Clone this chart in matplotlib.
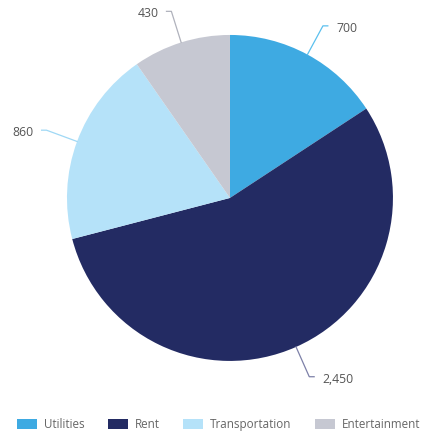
import numpy as np
import matplotlib.pyplot as plt
from matplotlib.patches import Patch

plt.rcParams['font.family'] = ['Open Sans', 'DejaVu Sans']

categories = ['Utilities', 'Rent', 'Transportation', 'Entertainment']
values = [700, 2450, 860, 430]
value_labels = ['700', '2,450', '860', '430']
colors = ['#3eaae2', '#232b63', '#b5e2f9', '#c6c8d2']
line_colors = ['#5bc0ee', '#7d80a8', '#9fd8f5', '#b0b2bc']

fig = plt.figure(figsize=(4.25, 4.36), dpi=100)
ax = fig.add_axes([0.1576, 0.172, 0.767, 0.748])

wedges, _ = ax.pie(values, colors=colors, startangle=90, counterclock=False,
                   radius=1, wedgeprops=dict(linewidth=0))
ax.set_xlim(-1, 1)
ax.set_ylim(-1, 1)
ax.set_aspect('equal')
ax.axis('off')

# leader lines and value labels
for w, lab, lc in zip(wedges, value_labels, line_colors):
    mid = np.deg2rad((w.theta1 + w.theta2) / 2)
    x0, y0 = np.cos(mid), np.sin(mid)
    x1, y1 = 1.2 * x0, 1.2 * y0
    side = 1 if x0 >= 0 else -1
    x2 = x1 + side * 0.03
    ax.plot([x0, x1, x2], [y0, y1, y1], color=lc, lw=0.9, clip_on=False)
    ax.text(x2 + side * 0.05, y1 - 0.015, lab, ha='left' if side > 0 else 'right',
            va='center', fontsize=8.8, color='#555555', clip_on=False)

handles = [Patch(facecolor=c, edgecolor='none') for c in colors]
fig.legend(handles, categories, loc='lower center', ncol=4, frameon=False,
           fontsize=8.4, labelcolor='#666666', bbox_to_anchor=(0.515, -0.012),
           handlelength=1.7, handleheight=1.0, columnspacing=2.0, handletextpad=0.6)

fig.savefig('out.png', dpi=100)
